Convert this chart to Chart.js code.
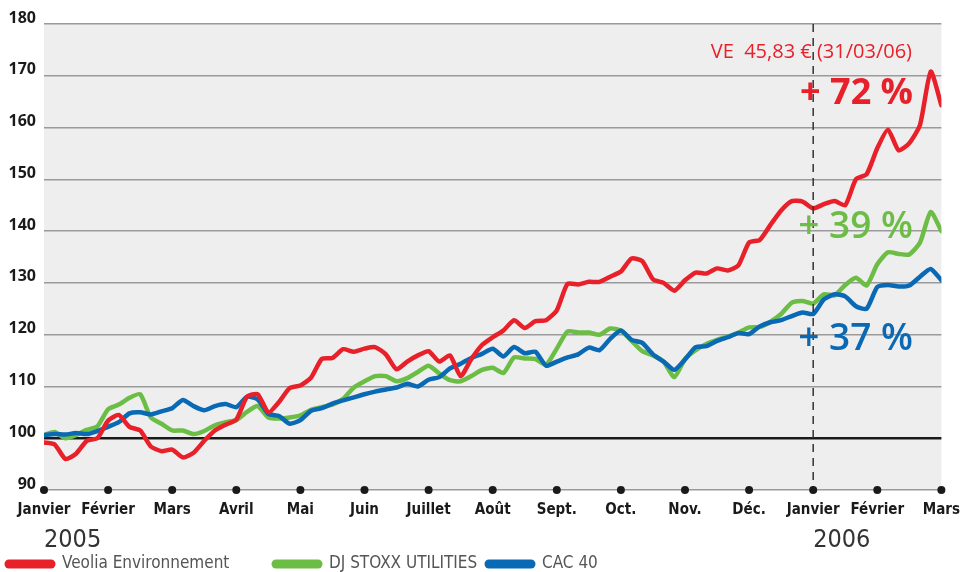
<!DOCTYPE html>
<html>
<head>
    <meta charset="UTF-8">
    <title>Veolia Environnement vs DJ STOXX UTILITIES vs CAC 40</title>
    <style>
        body { margin: 0; background: #fff; }
    </style>
    <script src="https://cdnjs.cloudflare.com/ajax/libs/Chart.js/4.4.1/chart.umd.min.js"></script>
</head>
<body>
    <canvas id="perfChart" width="963" height="572"></canvas>

    <script>
        // month ticks (Jan 2005 -> Mar 2006), one sample per week (6 per month)
        const months = ["Janvier", "Février", "Mars", "Avril", "Mai", "Juin", "Juillet", "Août", "Sept.", "Oct.", "Nov.", "Déc.", "Janvier", "Février", "Mars"];
        const years = ["2005", "2006"];
        const samplesPerMonth = 6;

        const veolia = [99.2, 98.8, 96.0, 97.0, 99.5, 100.0, 103.4, 104.5, 102.2, 101.5, 98.4, 97.5,
            97.8, 96.3, 97.2, 99.5, 101.5, 102.6, 103.6, 108.0, 108.5, 105.0, 107.0, 109.7,
            110.2, 111.7, 115.3, 115.5, 117.2, 116.7, 117.3, 117.6, 116.2, 113.3, 114.8, 116.0,
            116.8, 114.8, 116.0, 112.0, 115.3, 118.0, 119.5, 120.8, 122.8, 121.3, 122.6, 122.8,
            124.7, 129.8, 129.7, 130.2, 130.2, 131.2, 132.2, 134.7, 134.2, 130.7, 130.0, 128.5,
            130.5, 132.0, 131.8, 132.8, 132.4, 133.4, 137.8, 138.3, 141.2, 144.0, 145.8, 145.7,
            144.4, 145.2, 145.8, 145.0, 150.0, 151.0, 156.0, 159.6, 155.6, 157.0, 160.5, 170.8,
            164.3];
        const stoxx = [100.6, 101.2, 100.0, 100.6, 101.6, 102.3, 105.6, 106.5, 107.8, 108.5, 104.0, 102.8,
            101.5, 101.5, 100.8, 101.4, 102.5, 103.1, 103.5, 105.1, 106.2, 104.0, 103.8, 104.0,
            104.4, 105.5, 106.0, 106.5, 107.6, 109.8, 111.0, 112.0, 112.0, 111.0, 111.6, 112.8,
            114.0, 112.5, 111.2, 111.0, 112.0, 113.2, 113.6, 112.6, 115.6, 115.4, 115.3, 114.2,
            117.3, 120.6, 120.4, 120.4, 120.0, 121.2, 120.8, 118.8, 116.8, 116.0, 114.8, 111.8,
            115.3, 117.0, 118.2, 119.0, 119.6, 120.4, 121.4, 121.5, 122.5, 124.0, 126.2, 126.5,
            126.0, 127.8, 127.6, 129.6, 131.0, 129.5, 133.6, 135.9, 135.6, 135.5, 137.8, 143.7,
            140.0];
        const cac40 = [100.6, 100.8, 100.7, 101.0, 100.8, 101.4, 102.2, 103.1, 104.8, 105.0, 104.6, 105.2,
            105.8, 107.4, 106.2, 105.4, 106.2, 106.6, 106.0, 108.0, 107.5, 104.7, 104.3, 102.8,
            103.5, 105.3, 105.8, 106.7, 107.3, 107.9, 108.5, 109.0, 109.4, 109.8, 110.5, 110.0,
            111.3, 111.8, 113.5, 114.4, 115.5, 116.3, 117.3, 115.8, 117.6, 116.4, 116.7, 114.0,
            114.8, 115.6, 116.2, 117.5, 117.0, 119.2, 120.8, 119.0, 118.4, 116.2, 114.8, 113.2,
            115.2, 117.6, 117.8, 118.8, 119.5, 120.3, 120.1, 121.6, 122.4, 122.8, 123.6, 124.3,
            124.0, 126.8, 127.8, 127.4, 125.5, 125.0, 129.2, 129.6, 129.3, 129.5, 131.2, 132.7,
            130.5];

        const RED = "#e8202a", GREEN = "#6cbd45", BLUE = "#0a69b4";
        const NARROW = "'Liberation Sans Narrow', 'DejaVu Sans Condensed', sans-serif";
        const toPoints = arr => arr.map((v, i) => ({ x: i / samplesPerMonth, y: v }));

        const decorations = {
            id: "decorations",
            beforeDraw(chart) {
                const { ctx, chartArea: a } = chart;
                ctx.save();
                ctx.fillStyle = "#eeeeee";
                ctx.fillRect(a.left, a.top, a.right - a.left, a.bottom - a.top);
                ctx.restore();
            },
            afterDatasetsDraw(chart) {
                const { ctx, chartArea: a, scales } = chart;
                const x = scales.x;
                ctx.save();
                // dashed year separator
                const xj = x.getPixelForValue(12);
                ctx.strokeStyle = "#333";
                ctx.lineWidth = 1.5;
                ctx.setLineDash([8, 6]);
                ctx.beginPath();
                ctx.moveTo(xj, a.top);
                ctx.lineTo(xj, a.bottom);
                ctx.stroke();
                ctx.setLineDash([]);

                // annotations
                ctx.textAlign = "right";
                ctx.textBaseline = "alphabetic";
                ctx.fillStyle = RED;
                ctx.font = "20px 'Open Sans'";
                ctx.fillText("VE  45,83 € (31/03/06)", 912, 58);
                ctx.font = "bold 36px 'Open Sans'";
                ctx.fillText("+ 72 %", 913, 104);
                ctx.fillStyle = GREEN;
                ctx.font = "600 37px 'Open Sans'";
                ctx.fillText("+ 39 %", 913, 238);
                ctx.fillStyle = BLUE;
                ctx.fillText("+ 37 %", 913, 350);
                ctx.restore();
            },
            afterDraw(chart) {
                const { ctx, scales } = chart;
                const x = scales.x, y = scales.y;
                ctx.save();
                // month dots on the axis
                ctx.fillStyle = "#1a1a1a";
                months.forEach((m, i) => {
                    ctx.beginPath();
                    ctx.arc(x.getPixelForValue(i), y.getPixelForValue(90), 4, 0, Math.PI * 2);
                    ctx.fill();
                });
                // years
                ctx.fillStyle = "#333";
                ctx.font = "25px " + NARROW;
                ctx.textAlign = "left";
                ctx.textBaseline = "alphabetic";
                ctx.fillText(years[0], x.getPixelForValue(0), 547);
                ctx.fillText(years[1], x.getPixelForValue(12), 547);

                // legend
                const items = [["Veolia Environnement", RED, 5], ["DJ STOXX UTILITIES", GREEN, 272], ["CAC 40", BLUE, 485]];
                ctx.font = "17px " + NARROW;
                ctx.textBaseline = "middle";
                items.forEach(([label, color, lx]) => {
                    ctx.strokeStyle = color;
                    ctx.lineWidth = 9;
                    ctx.lineCap = "round";
                    ctx.beginPath();
                    ctx.moveTo(lx + 4, 564);
                    ctx.lineTo(lx + 46, 564);
                    ctx.stroke();
                    ctx.fillStyle = "#555";
                    ctx.fillText(label, lx + 57, 564);
                });
                ctx.restore();
            }
        };

        const ctx = document.getElementById("perfChart").getContext("2d");
        const perfChart = new Chart(ctx, {
            type: "line",
            data: {
                datasets: [
                    { label: "Veolia Environnement", data: toPoints(veolia), borderColor: RED, order: 0 },
                    { label: "DJ STOXX UTILITIES", data: toPoints(stoxx), borderColor: GREEN, order: 2 },
                    { label: "CAC 40", data: toPoints(cac40), borderColor: BLUE, order: 1 },
                ],
            },
            options: {
                responsive: false,
                animation: false,
                events: [],
                layout: { padding: { top: 24, right: 21, left: 0, bottom: 0 } },
                elements: {
                    line: { borderWidth: 4.5, tension: 0.2, fill: false, borderCapStyle: "round", borderJoinStyle: "round" },
                    point: { radius: 0 },
                },
                plugins: { legend: { display: false }, tooltip: { enabled: false } },
                scales: {
                    x: {
                        type: "linear",
                        min: 0,
                        max: 14,
                        afterFit: s => { s.height = 82; },
                        grid: { display: false },
                        border: { display: false },
                        ticks: {
                            stepSize: 1,
                            autoSkip: false,
                            maxRotation: 0,
                            padding: 3,
                            color: "#1a1a1a",
                            font: { family: NARROW, weight: "bold", size: 15 },
                            callback: v => months[v],
                        },
                    },
                    y: {
                        min: 90,
                        max: 180,
                        afterFit: s => { s.width = 44; },
                        border: { display: false },
                        grid: {
                            drawTicks: false,
                            color: c => (c.tick.value === 100 ? "#1a1a1a" : "#9a9a9a"),
                            lineWidth: c => (c.tick.value === 100 ? 2.5 : 1.5),
                        },
                        ticks: {
                            stepSize: 10,
                            padding: 8,
                            labelOffset: -6,
                            color: "#1a1a1a",
                            font: { family: "'Open Sans'", weight: "bold", size: 16 },
                        },
                    },
                },
            },
            plugins: [decorations],
        });
    </script>
</body>
</html>
